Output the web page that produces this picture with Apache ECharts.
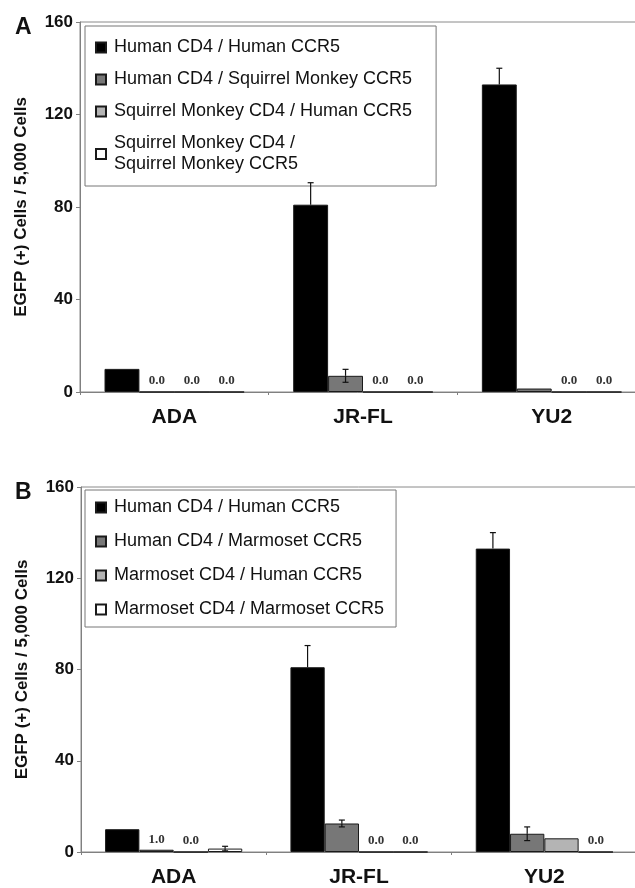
<!DOCTYPE html>
<html>
<head>
<meta charset="utf-8">
<script src="https://cdn.jsdelivr.net/npm/echarts@6/dist/echarts.min.js"></script>
<style>
  html, body { margin: 0; padding: 0; background: #fff; }
  #chart { width: 635px; height: 888px; }
</style>
</head>
<body>
<div id="chart"></div>
<script>
// Virus isolates on the category axis
const isolates = ['ADA', 'JR-FL', 'YU2'];
const yTicks = { min: 0, max: 160, interval: 40 };

// Panel A: squirrel monkey receptors
const namesA = [
  'Human CD4 / Human CCR5',
  'Human CD4 / Squirrel Monkey CCR5',
  'Squirrel Monkey CD4 / Human CCR5',
  'Squirrel Monkey CD4 /\nSquirrel Monkey CCR5'
];
const valuesA = [
  [10, 81, 133],
  [0, 7, 1.5],
  [0, 0, 0],
  [0, 0, 0]
];
const errorsA = [
  [0, 9.5, 7],
  [0, 2.8, 0],
  [0, 0, 0],
  [0, 0, 0]
];
// which bars carry a printed value
const labeledA = [
  [false, false, false],
  [true, false, false],
  [true, true, true],
  [true, true, true]
];

// Panel B: marmoset receptors
const namesB = [
  'Human CD4 / Human CCR5',
  'Human CD4 / Marmoset CCR5',
  'Marmoset CD4 / Human CCR5',
  'Marmoset CD4 / Marmoset CCR5'
];
const valuesB = [
  [10, 81, 133],
  [1.0, 12.5, 8],
  [0, 0, 6],
  [1.5, 0, 0]
];
const errorsB = [
  [0, 9.5, 7],
  [0, 1.5, 3],
  [0, 0, 0],
  [1, 0, 0]
];
const labeledB = [
  [false, false, false],
  [true, false, false],
  [true, true, false],
  [false, true, true]
];

const fills = ['#000000', '#777777', '#b4b4b4', '#ffffff'];
const sans = "'Liberation Sans', Arial, sans-serif";
const serif = "'Liberation Serif', 'Times New Roman', serif";
const catGap = 0.26;

function barSeries(names, values, labeled, idx) {
  return names.map((name, s) => ({
    name: name,
    type: 'bar',
    xAxisIndex: idx,
    yAxisIndex: idx,
    barGap: '0%',
    barCategoryGap: (catGap * 100) + '%',
    itemStyle: { color: fills[s], borderColor: '#1a1a1a', borderWidth: 1 },
    label: {
      show: false,
      position: 'top',
      distance: 4,
      fontFamily: serif,
      fontWeight: 'bold',
      fontSize: 13,
      color: '#333',
      formatter: p => Number(p.value).toFixed(1)
    },
    data: values[s].map((v, i) => labeled[s][i] ? { value: v, label: { show: true } } : v),
    z: 2
  }));
}

// Error bars placed over the grouped bars; the black bars only show the upper arm
function errorSeries(values, errors, idx) {
  const data = [];
  values.forEach((row, s) => row.forEach((v, i) => {
    if (errors[s][i] > 0) data.push([i, s, v, errors[s][i]]);
  }));
  return {
    type: 'custom',
    name: 'sd' + idx,
    xAxisIndex: idx,
    yAxisIndex: idx,
    encode: { x: 0, y: 2 },
    z: 5,
    silent: true,
    renderItem: (params, api) => {
      const cat = api.value(0), s = api.value(1), v = api.value(2), e = api.value(3);
      const band = api.size([1, 0])[0];
      const bw = band * (1 - catGap) / 4;
      const cx = api.coord([cat, v])[0] - 2 * bw + (s + 0.5) * bw;
      const yTop = api.coord([cat, v + e])[1];
      const yMid = api.coord([cat, v])[1];
      const yBot = api.coord([cat, Math.max(v - e, 0)])[1];
      const st = { stroke: '#111', lineWidth: 1.2 };
      const parts = [
        { type: 'line', shape: { x1: cx, y1: yTop, x2: cx, y2: yMid }, style: st },
        { type: 'line', shape: { x1: cx - 3, y1: yTop, x2: cx + 3, y2: yTop }, style: st }
      ];
      if (s > 0) {
        parts.push({ type: 'line', shape: { x1: cx, y1: yMid, x2: cx, y2: yBot }, style: st });
        parts.push({ type: 'line', shape: { x1: cx - 3, y1: yBot, x2: cx + 3, y2: yBot }, style: st });
      }
      return { type: 'group', children: parts };
    },
    data: data
  };
}

function xAxis(idx) {
  return {
    type: 'category',
    gridIndex: idx,
    data: isolates,
    axisLine: { lineStyle: { color: '#808080', width: 1 } },
    axisTick: { show: true, length: 3, lineStyle: { color: '#808080' } },
    axisLabel: { fontFamily: sans, fontWeight: 'bold', fontSize: 21, color: '#111', margin: 15 }
  };
}

function yAxis(idx) {
  return {
    type: 'value',
    gridIndex: idx,
    min: yTicks.min,
    max: yTicks.max,
    interval: yTicks.interval,
    name: 'EGFP (+) Cells / 5,000 Cells',
    nameLocation: 'middle',
    nameRotate: 90,
    nameGap: 50,
    nameTextStyle: { fontFamily: sans, fontWeight: 'bold', fontSize: 17, color: '#111' },
    axisLine: { show: true, lineStyle: { color: '#808080', width: 1 } },
    axisTick: { show: true, length: 4, lineStyle: { color: '#808080' } },
    splitLine: { show: false },
    axisLabel: { fontFamily: sans, fontWeight: 'bold', fontSize: 17, color: '#111', margin: 7 }
  };
}

function legend(names, top, padding, gap) {
  return {
    orient: 'vertical',
    left: 85,
    top: top,
    data: names,
    padding: padding,
    itemGap: gap,
    itemWidth: 10,
    itemHeight: 10,
    backgroundColor: '#fff',
    borderColor: '#777',
    borderWidth: 1,
    icon: 'rect',
    selectedMode: false,
    textStyle: { fontFamily: sans, fontSize: 18, color: '#111', padding: [0, 0, 0, 3], lineHeight: 21 }
  };
}

const chart = echarts.init(document.getElementById('chart'), null, { renderer: 'canvas' });
chart.setOption({
  animation: false,
  backgroundColor: '#fff',
  title: [
    { text: 'A', left: 10, top: 11, textStyle: { fontFamily: sans, fontWeight: 'bold', fontSize: 23, color: '#111' } },
    { text: 'B', left: 10, top: 476, textStyle: { fontFamily: sans, fontWeight: 'bold', fontSize: 23, color: '#111' } }
  ],
  grid: [
    { left: 80, top: 22, width: 566, height: 370, outerBoundsMode: 'none', show: true, borderColor: '#8a8a8a', borderWidth: 1 },
    { left: 81, top: 487, width: 556, height: 365, outerBoundsMode: 'none', show: true, borderColor: '#8a8a8a', borderWidth: 1 }
  ],
  legend: [
    legend(namesA, 26, [11, 24, 11, 10], 11),
    legend(namesB, 490, [7, 12, 7, 10], 13)
  ],
  xAxis: [xAxis(0), xAxis(1)],
  yAxis: [yAxis(0), yAxis(1)],
  series: [
    ...barSeries(namesA, valuesA, labeledA, 0),
    errorSeries(valuesA, errorsA, 0),
    ...barSeries(namesB, valuesB, labeledB, 1),
    errorSeries(valuesB, errorsB, 1)
  ]
});
</script>
</body>
</html>
